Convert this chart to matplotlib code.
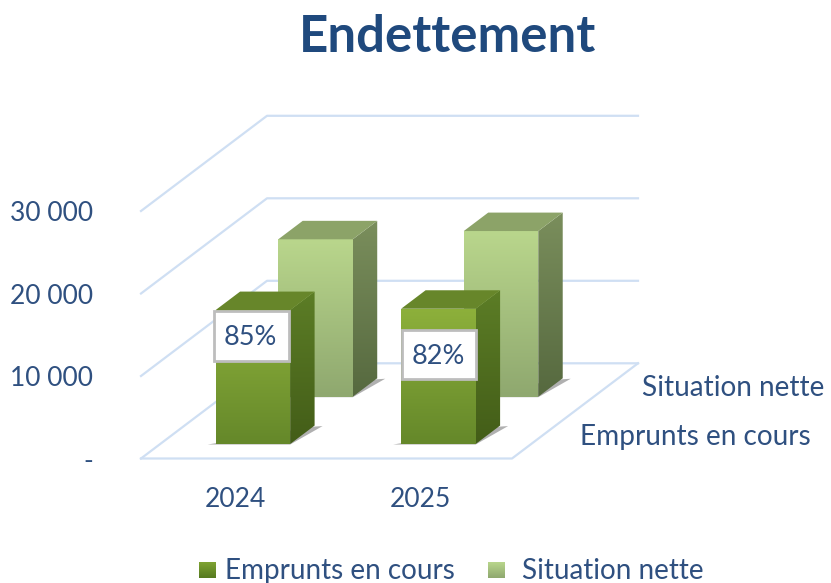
import numpy as np
import matplotlib
matplotlib.use('Agg')
import matplotlib.pyplot as plt
from matplotlib.colors import to_rgb
from matplotlib.patches import Polygon, Rectangle

plt.rcParams['font.family'] = ['Lato', 'DejaVu Sans']

# Data
title = 'Endettement'
years = ['2024', '2025']
series_names = ['Emprunts en cours', 'Situation nette']
emprunts = [16240, 16400]
situation = [19080, 20080]
ratios = ['85%', '82%']
y_ticks = [0, 10000, 20000, 30000]
y_labels = ['-', '10 000', '20 000', '30 000']

# Chart geometry in pixels (oblique projection as in the Excel 3D chart)
X0, Y0 = 141, 458.5
FLOOR_W = 371
DEPTH_X, DEPTH_Y = 126, 95.2
PX_PER_UNIT = 82.5 / 10000
BAR_W = 74.5 / 185.5
BAR_D = 0.194
ROW_D = [0.152, 0.649]

TEXT = '#2F5080'
GRID = '#CFDFF3'


def project(cat, depth, value=0):
    """Category position, depth (0-1) and value to pixel coordinates."""
    x = X0 + cat * FLOOR_W / 2 + depth * DEPTH_X
    y = Y0 - depth * DEPTH_Y - value * PX_PER_UNIT
    return x, y


def gradient_poly(ax, pts, top, bottom, zorder):
    """Polygon with a vertical gradient, drawn as a clipped image."""
    pts = np.array(pts)
    x1, x2 = pts[:, 0].min(), pts[:, 0].max()
    y1, y2 = pts[:, 1].min(), pts[:, 1].max()
    t = np.linspace(0, 1, 64)[:, None, None]
    img = np.array(to_rgb(top))[None, None, :] * (1 - t) + np.array(to_rgb(bottom))[None, None, :] * t
    im = ax.imshow(img, extent=(x1, x2, y2, y1), aspect='auto', origin='upper',
                   interpolation='bilinear', zorder=zorder)
    clip = Polygon(pts, closed=True, transform=ax.transData, fc='none', ec='none')
    ax.add_patch(clip)
    im.set_clip_path(clip)


def draw_bar(ax, i, row, value, colors, zorder):
    left, right = i + 0.5 - BAR_W / 2, i + 0.5 + BAR_W / 2
    d0, d1 = ROW_D[row], ROW_D[row] + BAR_D

    # shadow on the floor
    bl = project(left, d0)
    br = project(right, d0)
    bk = project(right, d1)
    shadow = [(bl[0] - 8, bl[1] + 0.5), (br[0], br[1] + 0.5), (bk[0] + 8, bk[1] + 0.5), (bk[0], bk[1] + 1)]
    ax.add_patch(Polygon(shadow, closed=True, fc='#707070', ec='none', alpha=0.55, zorder=zorder))

    front = [project(left, d0, value), project(right, d0, value), project(right, d0), project(left, d0)]
    side = [project(right, d0, value), project(right, d1, value), project(right, d1), project(right, d0)]
    top = [project(left, d0, value), project(right, d0, value), project(right, d1, value), project(left, d1, value)]
    gradient_poly(ax, front, colors['front'][0], colors['front'][1], zorder + 0.1)
    gradient_poly(ax, side, colors['side'][0], colors['side'][1], zorder + 0.1)
    ax.add_patch(Polygon(top, closed=True, fc=colors['top'], ec='none', zorder=zorder + 0.1))


dark = {'front': ('#8DB03B', '#65882A'), 'side': ('#5C7D26', '#435D18'), 'top': '#67862A'}
light = {'front': ('#B9D68C', '#8FA86F'), 'side': ('#7A8E5C', '#56693F'), 'top': '#8CA368'}

fig = plt.figure(figsize=(8.31, 5.83), dpi=100)
ax = fig.add_axes([0, 0, 1, 1])

# Walls and floor
for v, lab in zip(y_ticks, y_labels):
    p0 = project(0, 0, v)
    p1 = project(0, 1, v)
    p2 = project(2, 1, v)
    ax.plot([p0[0], p1[0], p2[0]], [p0[1], p1[1], p2[1]], color=GRID, lw=1.6, zorder=1)
    ax.text(93, p0[1] + 2.5, lab, ha='right', va='center', fontsize=19, color=TEXT)
f0, f1, f2 = project(0, 0), project(2, 0), project(2, 1)
ax.plot([f0[0], f1[0], f2[0]], [f0[1], f1[1], f2[1]], color=GRID, lw=1.6, zorder=1)

# Bars, back row first
for i in range(len(years)):
    draw_bar(ax, i, 1, situation[i], light, 2)
for i in range(len(years)):
    draw_bar(ax, i, 0, emprunts[i], dark, 3)

# Ratio labels
label_boxes = [(213.5, 311, 75, 49.5), (401.5, 330, 74.5, 49)]
for (x, y, w, h), txt in zip(label_boxes, ratios):
    ax.add_patch(Rectangle((x, y), w, h, fc='white', ec='#BDBDBD', lw=2, zorder=5))
    ax.text(x + w / 2 - 0.5, y + h / 2 + 1.5, txt, ha='center', va='center', fontsize=19.5, color=TEXT, zorder=6)

# Category and series labels
for i, yr in enumerate(years):
    ax.text(project(i + 0.5, 0)[0] + 1.5, 499.5, yr, ha='center', va='center', fontsize=19, color=TEXT)
ax.text(580, 437.5, series_names[0], ha='left', va='center', fontsize=20.2, color=TEXT)
ax.text(642, 388.5, series_names[1], ha='left', va='center', fontsize=20.2, color=TEXT)

# Title
ax.text(447.5, 37, title, ha='center', va='center', fontsize=36.7, fontweight='bold', color='#1F497D')

# Legend
legend_x = [(199, 225), (488, 522)]
legend_cols = [('#7FA333', '#567A20'), ('#B9D68C', '#8FA86F')]
for (sx, tx), name, c in zip(legend_x, series_names, legend_cols):
    gradient_poly(ax, [(sx, 562), (sx + 17, 562), (sx + 17, 578), (sx, 578)], c[0], c[1], 3)
    ax.text(tx, 571, name, ha='left', va='center', fontsize=20.1, color=TEXT)

ax.set_xlim(0, 831)
ax.set_ylim(583, 0)
ax.axis('off')

fig.savefig('out.png', dpi=100)
plt.close(fig)
